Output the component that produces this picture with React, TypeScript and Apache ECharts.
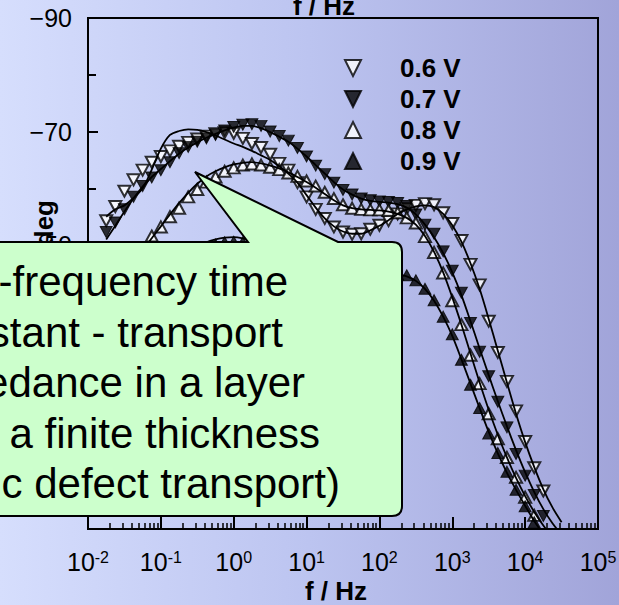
import { useEffect, useRef } from 'react';
import * as echarts from 'echarts';

// Measurement frequencies (Hz), 8 points per decade
const FREQ_HZ = [
  0.01778, 0.02371, 0.03162, 0.04217, 0.05623, 0.07499, 0.1, 0.1334, 0.1778, 0.2371,
  0.3162, 0.4217, 0.5623, 0.7499, 1, 1.334, 1.778, 2.371, 3.162, 4.217,
  5.623, 7.499, 10, 13.34, 17.78, 23.71, 31.62, 42.17, 56.23, 74.99,
  100, 133.4, 177.8, 237.1, 316.2, 421.7, 562.3, 749.9, 1000, 1334,
  1778, 2371, 3162, 4217, 5623, 7499, 10000, 13340, 17780, 23710,
];

// Measured phase angles (deg) at each frequency
const PHASE_06V = [
  -54.3, -56.8, -59.5, -61.5, -63.2, -64.6, -65.6, -66.6, -67.4, -68.1,
  -68.7, -69.2, -69.6, -69.8, -69.7, -68.8, -67.9, -67.2, -66.0, -64.4,
  -63.2, -61.0, -58.5, -56.3, -54.7, -53.2, -52.3, -51.9, -52.0, -52.8,
  -53.5, -54.3, -55.5, -56.4, -57.0, -57.3, -57.1, -55.7, -53.8, -50.8,
  -46.6, -43.0, -36.6, -31.1, -26.0, -20.8, -15.4, -10.8, -6.7, null,
];
const PHASE_07V = [
  -52.3, -54.0, -56.3, -58.5, -60.4, -61.9, -63.2, -64.6, -66.2, -67.3,
  -68.2, -68.8, -69.5, -70.2, -70.8, -71.2, -71.3, -71.0, -70.0, -69.2,
  -68.4, -67.1, -65.6, -64.0, -62.5, -61.0, -59.7, -58.9, -58.2, -57.9,
  -57.7, -57.6, -57.4, -56.9, -55.4, -53.6, -52.0, -48.9, -45.5, -41.6,
  -36.3, -31.2, -26.9, -22.4, -17.9, -13.2, -9.4, -6.0, -2.3, null,
];
const PHASE_08V = [
  -38.0, -41.0, -44.0, -46.8, -49.3, -51.6, -53.2, -55.0, -56.5, -58.5,
  -59.8, -61.1, -62.0, -63.0, -63.6, -64.1, -64.3, -64.1, -63.7, -63.3,
  -62.7, -62.1, -61.3, -60.4, -59.3, -58.2, -57.1, -56.5, -56.3, -56.2,
  -56.2, -56.1, -55.7, -54.8, -53.9, -51.5, -48.7, -45.1, -40.2, -36.0,
  -30.6, -25.6, -20.3, -15.9, -12.6, -9.1, -5.6, -2.4, null, null,
];
const PHASE_09V = [
  -28.0, -30.5, -33.0, -35.5, -38.0, -40.3, -42.5, -44.5, -46.2, -47.6,
  -48.7, -49.5, -50.1, -50.5, -50.6, -50.5, -50.1, -49.6, -49.0, -48.3,
  -47.6, -47.0, -46.4, -46.0, -45.6, -45.3, -45.1, -45.0, -45.0, -45.0,
  -45.0, -44.9, -44.8, -44.7, -43.8, -42.3, -40.3, -37.4, -34.3, -29.8,
  -25.4, -21.3, -16.8, -13.4, -10.1, -6.9, -4.0, -1.2, null, null,
];

// Model fit curves, evaluated on the same grid plus one extra point
const FIT_FREQ_HZ = [...FREQ_HZ, 31620];
const FIT_06V = [
  -55.0, -56.3, -57.0, -58.3, -60.0, -63.3, -67.0, -69.4, -70.1, -70.4,
  -70.3, -69.9, -69.3, -68.6, -67.9, -67.3, -66.6, -65.8, -65.0, -63.9,
  -62.6, -61.0, -58.8, -56.6, -54.7, -53.3, -52.4, -52.0, -52.0, -52.6,
  -53.4, -54.4, -55.5, -56.3, -56.8, -57.0, -56.7, -55.5, -53.5, -50.6,
  -46.8, -42.3, -37.0, -31.4, -25.8, -20.3, -15.3, -10.9, -7.0, -3.8, -1.2,
];
const FIT_07V = [
  -51.0, -53.4, -55.9, -58.2, -60.3, -62.0, -63.4, -64.8, -66.1, -67.2,
  -68.1, -68.9, -69.6, -70.2, -70.7, -71.0, -71.0, -70.6, -69.9, -69.1,
  -68.2, -67.0, -65.6, -64.1, -62.6, -61.1, -59.8, -58.9, -58.2, -57.8,
  -57.6, -57.5, -57.2, -56.6, -55.4, -53.6, -51.4, -48.6, -45.2, -41.2,
  -36.6, -31.8, -27.1, -22.5, -18.1, -13.9, -10.0, -6.5, -3.5, -1.0, 1.0,
];
const FIT_08V = [
  -37.0, -40.2, -43.4, -46.4, -49.0, -51.2, -53.3, -55.4, -57.4, -59.2,
  -60.8, -62.1, -63.0, -63.7, -64.2, -64.5, -64.6, -64.4, -64.0, -63.5,
  -62.8, -62.0, -61.1, -60.1, -59.0, -57.9, -57.0, -56.5, -56.3, -56.2,
  -56.1, -55.9, -55.5, -54.8, -53.6, -51.6, -48.8, -45.2, -40.8, -36.0,
  -30.9, -25.8, -21.0, -16.6, -12.6, -9.0, -5.8, -3.0, -0.6, 1.5, null,
];
const FIT_09V = [
  -28.5, -31.0, -33.5, -36.0, -38.4, -40.7, -42.9, -45.0, -46.8, -48.4,
  -49.6, -50.5, -51.0, -51.3, -51.4, -51.2, -50.8, -50.2, -49.5, -48.8,
  -48.0, -47.3, -46.6, -46.0, -45.6, -45.3, -45.1, -45.0, -45.0, -45.0,
  -45.0, -44.9, -44.8, -44.5, -43.7, -42.3, -40.2, -37.4, -34.0, -29.9,
  -25.6, -21.3, -17.1, -13.3, -9.9, -6.9, -4.1, -1.4, 1.0, null, null,
];

const SERIES_NAMES = ['0.6 V', '0.7 V', '0.8 V', '0.9 V'];

const CALLOUT_LINES = [
  'Low-frequency time',
  'constant - transport',
  'impedance in a layer',
  'of a finite thickness',
  '(ionic defect transport)',
];

const FONT = 'Liberation Sans';
const DOWN = 'path://M0,0L10,0L5,10Z';
const UP = 'path://M5,0L10,10L0,10Z';

function pairs(freq: number[], vals: (number | null)[]) {
  const out: [number, number][] = [];
  vals.forEach((v, i) => {
    if (v !== null) out.push([freq[i], v]);
  });
  return out;
}

// Log-axis minor tick positions (2..9 within each decade), in log10 units
const MINOR_TICKS_LG: number[] = [];
for (let n = -2; n < 5; n++) {
  for (let k = 2; k <= 9; k++) MINOR_TICKS_LG.push(n + Math.log10(k));
}

const CALLOUT_PATH =
  'M-10,242 L248,242 L195,172 L338,242 L392,242 Q402,242 402,252 L402,506 Q402,516 392,516 L-10,516 Z';

export default function App() {
  const ref = useRef<HTMLDivElement>(null);

  useEffect(() => {
    if (!ref.current) return;
    echarts.graphic.registerShape('callout', echarts.graphic.extendPath(CALLOUT_PATH, {}));
    const chart = echarts.init(ref.current, undefined, { renderer: 'svg' });

    const open = { color: '#ffffff', borderColor: '#000000', borderWidth: 2 };
    const filled = { color: '#000000', borderColor: '#000000', borderWidth: 1 };
    const markerSeries = [
      { name: SERIES_NAMES[0], data: pairs(FREQ_HZ, PHASE_06V), rotate: 180, style: open },
      { name: SERIES_NAMES[1], data: pairs(FREQ_HZ, PHASE_07V), rotate: 180, style: filled },
      { name: SERIES_NAMES[2], data: pairs(FREQ_HZ, PHASE_08V), rotate: 0, style: open },
      { name: SERIES_NAMES[3], data: pairs(FREQ_HZ, PHASE_09V), rotate: 0, style: filled },
    ].map((s) => ({
      type: 'scatter',
      name: s.name,
      data: s.data,
      symbol: 'triangle',
      symbolSize: [12, 11],
      symbolRotate: s.rotate,
      itemStyle: s.style,
      z: 2,
      silent: true,
    }));

    const fitSeries = [FIT_06V, FIT_07V, FIT_08V, FIT_09V].map((vals, i) => ({
      type: 'line',
      name: SERIES_NAMES[i] + ' fit',
      data: pairs(FIT_FREQ_HZ, vals),
      showSymbol: false,
      smooth: 0.3,
      lineStyle: { color: '#000', width: 1.8 },
      z: 3,
      silent: true,
    }));

    const lineText = CALLOUT_LINES.map((t, i) => ({
      type: 'text',
      z: 101,
      style: {
        text: t,
        x: [288, 283, 305, 320, 340][i],
        y: 296 + i * 50.6 - 14.6,
        fill: '#000',
        fontSize: 42,
        fontFamily: FONT,
        align: 'right',
        verticalAlign: 'middle',
      },
    }));

    chart.setOption({
      animation: false,
      textStyle: { fontFamily: FONT },
      grid: {
        left: 88, top: 18, width: 510, height: 511,
        outerBoundsMode: 'none',
        containLabel: false,
        show: true, borderColor: '#000', borderWidth: 2, backgroundColor: 'transparent',
      },
      legend: {
        data: [
          { name: SERIES_NAMES[0], icon: DOWN },
          { name: SERIES_NAMES[1], icon: DOWN },
          { name: SERIES_NAMES[2], icon: UP },
          { name: SERIES_NAMES[3], icon: UP },
        ],
        orient: 'vertical',
        left: 344,
        top: 55,
        padding: 0,
        itemWidth: 16,
        itemHeight: 16,
        itemGap: 5,
        selectedMode: false,
        itemStyle: { borderWidth: 2 },
        textStyle: { fontSize: 26, fontWeight: 'bold', color: '#000', fontFamily: FONT, padding: [0, 0, 0, 34] },
      },
      xAxis: [
        {
          type: 'log',
          logBase: 10,
          min: 0.01,
          max: 100000,
          position: 'bottom',
          axisLine: { show: true, onZero: false, lineStyle: { color: '#000', width: 2 } },
          axisTick: { show: true, inside: true, length: 12, lineStyle: { color: '#000', width: 2 } },
          splitLine: { show: false },
          axisLabel: {
            margin: 20,
            color: '#000',
            formatter: (v: number) => `{b|10}{s|${Math.round(Math.log10(v))}}`,
            rich: {
              b: { fontSize: 25, lineHeight: 25, fontFamily: FONT, color: '#000' },
              s: { fontSize: 16, lineHeight: 25, fontFamily: FONT, color: '#000', verticalAlign: 'top', padding: [0, 0, 8, 0] },
            },
          },
        },
        {
          type: 'value',
          min: -2,
          max: 5,
          position: 'bottom',
          axisLine: { show: false, onZero: false },
          axisLabel: { show: false },
          splitLine: { show: false },
          axisTick: { show: true, inside: true, length: 6, customValues: MINOR_TICKS_LG, lineStyle: { color: '#000', width: 1.5 } },
        },
      ],
      yAxis: {
        type: 'value',
        inverse: true,
        min: -90,
        max: 0,
        interval: 20,
        axisLine: { show: true, onZero: false, lineStyle: { color: '#000', width: 2 } },
        axisTick: { show: true, inside: true, length: 10, lineStyle: { color: '#000', width: 2 } },
        minorTick: { show: true, splitNumber: 2, length: 8, lineStyle: { color: '#000', width: 2 } },
        splitLine: { show: false },
        axisLabel: {
          margin: 16,
          fontSize: 25,
          color: '#000',
          fontFamily: FONT,
          formatter: (v: number) => (v === 0 ? '' : '\u2212' + Math.abs(v)),
        },
      },
      series: [...markerSeries, ...fitSeries],
      graphic: {
        elements: [
          {
            type: 'text', z: 50,
            style: { text: 'f / Hz', x: 324, y: 6, fill: '#000', fontSize: 26, fontWeight: 'bold', fontFamily: FONT, align: 'center', verticalAlign: 'middle' },
          },
          {
            type: 'text', z: 50,
            style: { text: 'f / Hz', x: 336, y: 591, fill: '#000', fontSize: 26, fontWeight: 'bold', fontFamily: FONT, align: 'center', verticalAlign: 'middle' },
          },
          {
            // y-axis title, reading bottom-to-top
            type: 'text', z: 50, x: 44, y: 200, rotation: Math.PI / 2,
            style: { text: '-Phase / deg', x: 0, y: 0, fill: '#000', fontSize: 26, fontWeight: 'bold', fontFamily: FONT, align: 'right', verticalAlign: 'middle' },
          },
          {
            type: 'callout', z: 100, x: 0, y: 0,
            style: { fill: '#ccffcc', stroke: '#000', lineWidth: 2 },
          },
          ...lineText,
        ],
      },
    });

    return () => chart.dispose();
  }, []);

  return (
    <div
      ref={ref}
      style={{
        position: 'absolute',
        left: 0,
        top: 0,
        width: 619,
        height: 605,
        background: 'linear-gradient(90deg, #d6defd 0%, #bcc4f0 50%, #a1a4d9 100%)',
      }}
    />
  );
}
